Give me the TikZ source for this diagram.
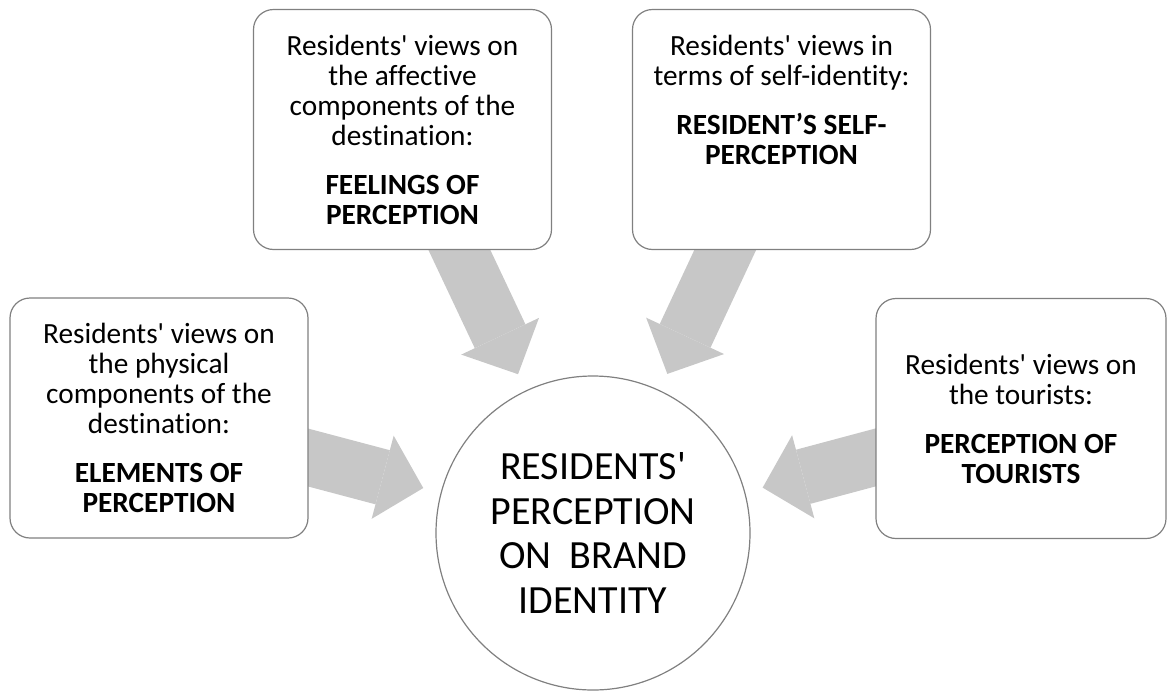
\documentclass[tikz,border=0pt]{standalone}
\usepackage{fontspec}
\newfontfamily\carlito{Carlito}[Ligatures=CommonOff]
\usetikzlibrary{arrows.meta}
\definecolor{arrowgray}{RGB}{199,199,199}
\definecolor{edgegray}{RGB}{128,128,128}
\pgfdeclarelayer{background}
\pgfsetlayers{background,main}
\tikzset{
         viewbox/.style=
          {
           draw=edgegray, line width=1.2pt, fill=white,
           rounded corners=20pt, align=center,
           minimum width=298pt, minimum height=240pt,
           font=\carlito\fontsize{29.3}{30}\selectfont
          },
         hub/.style=
          {
           draw=edgegray, line width=1.2pt, fill=white,
           shape=circle, minimum size=314pt, inner sep=0pt, align=center,
           font=\carlito\fontsize{40}{44.5}\selectfont
          },
         feed/.style=
          {
           draw=arrowgray, line width=56pt, shorten >=18pt,
           -{Triangle[length=42pt,width=86pt,line width=0pt]}
          }
        }

\begin{document}
\begin{tikzpicture}[x=1pt,y=-1pt]
      \useasboundingbox (0,0) rectangle (1168,691);
      \node[hub] (hub) at (593,533) {RESIDENTS'\\PERCEPTION\\ON\ \ BRAND\\IDENTITY}; % centre
      \node[viewbox] (elements) at (159,418) {Residents' views on\\the physical\\components of the\\destination:\\[19pt]\textbf{ELEMENTS OF}\\\textbf{PERCEPTION}}; % left box
      \node[viewbox] (feelings) at (402.5,129.5) {Residents' views on\\the affective\\components of the\\destination:\\[19pt]\textbf{FEELINGS OF}\\\textbf{PERCEPTION}}; % upper left box
      \node[viewbox] (self) at (781.5,129.5) {Residents' views in\\terms of self-identity:\\[19pt]\textbf{RESIDENT’S SELF-}\\\textbf{PERCEPTION}\\\mbox{}\\\mbox{}}; % upper right box
      \node[viewbox,minimum width=290pt] (tourists) at (1021,418.5) {Residents' views on\\the tourists:\\[19pt]\textbf{PERCEPTION OF}\\\textbf{TOURISTS}}; % right box
      \begin{pgfonlayer}{background}
      \draw[feed] (elements.center) -- (hub); % arrows under the boxes
      \draw[feed] (feelings.center) -- (hub);
      \draw[feed] (self.center) -- (hub);
      \draw[feed] (tourists.center) -- (hub);
      \end{pgfonlayer}
\end{tikzpicture}
\end{document}
